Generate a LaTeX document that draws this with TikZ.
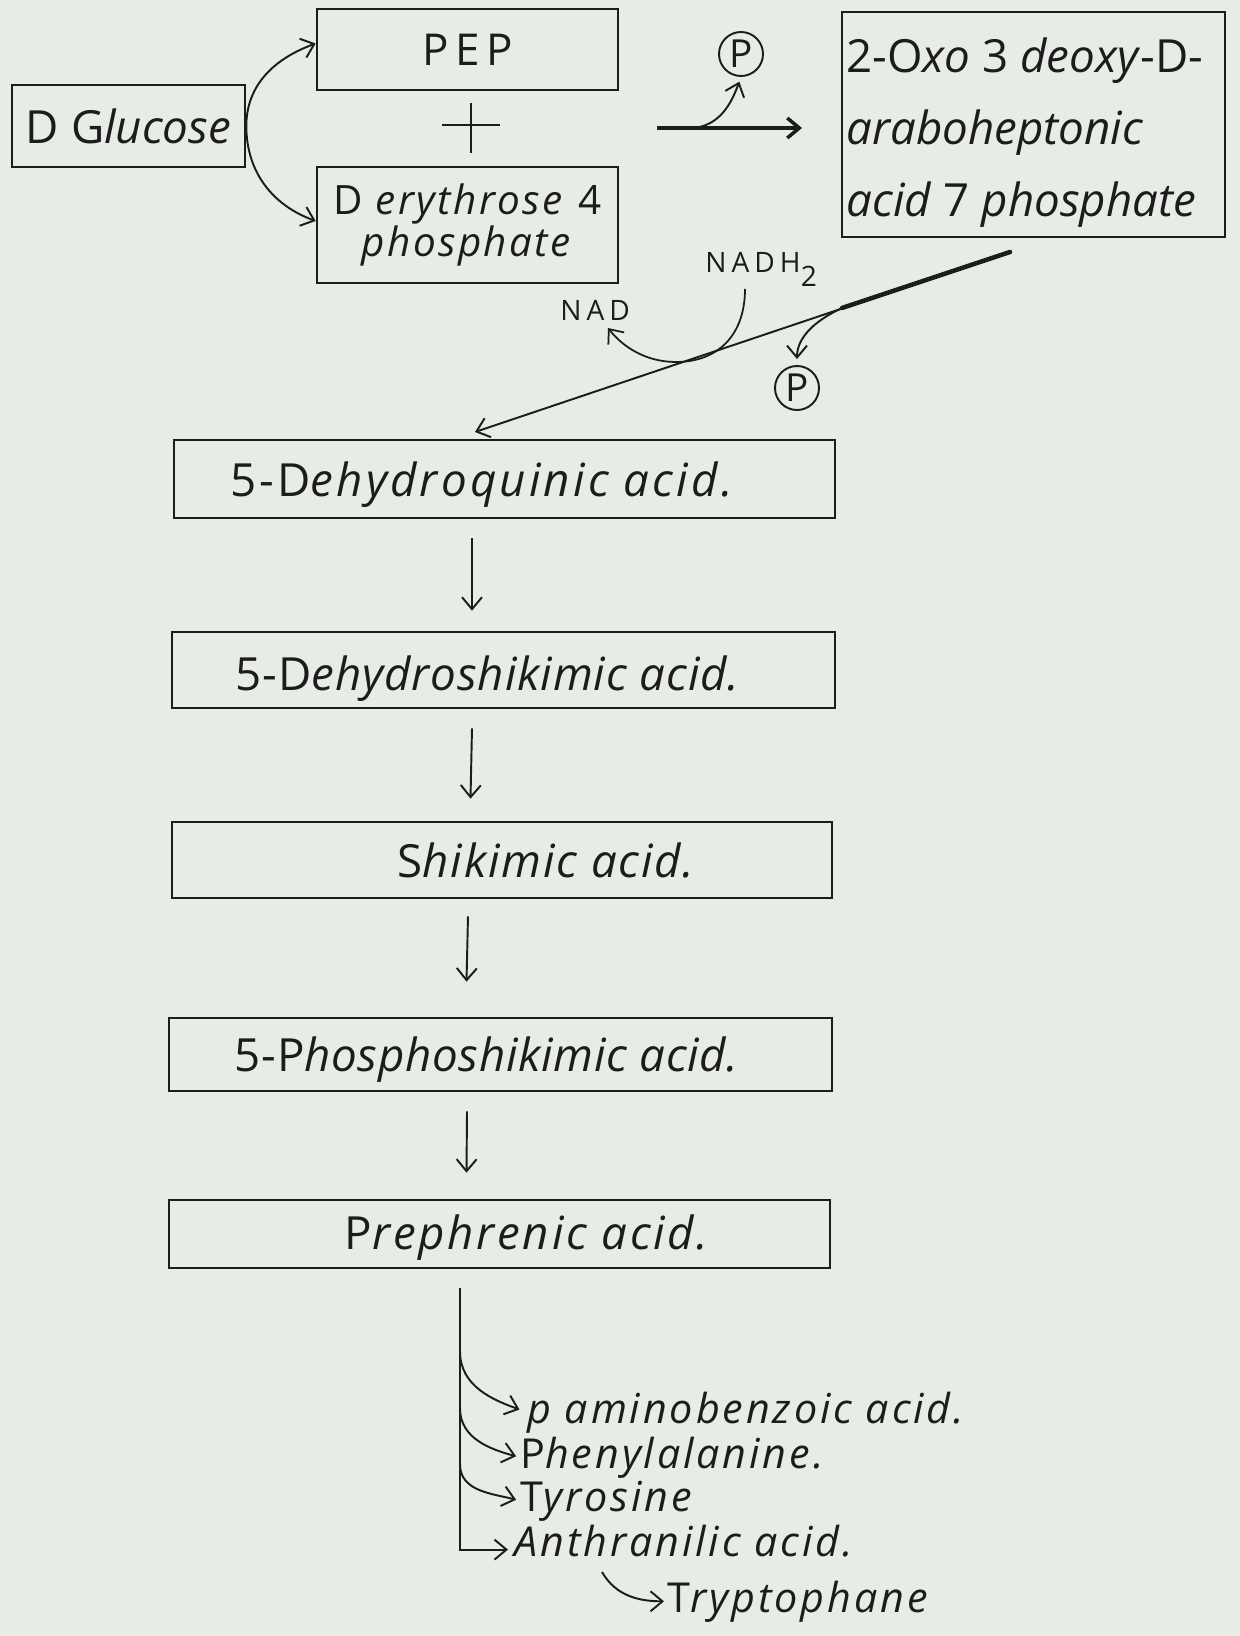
\documentclass[tikz,border=0pt]{standalone}
\usepackage{fontspec}
\setmainfont{Open Sans}
\usetikzlibrary{arrows.meta,calc}
\newlength\pu \setlength\pu{0.02cm}
\definecolor{paper}{HTML}{E8ECE6}
\definecolor{ink}{HTML}{1C1C1C}
\newcommand\fs[1]{\fontsize{#1}{#1}\selectfont}
\newcommand\lsp[1]{\addfontfeatures{LetterSpace=#1}}
\newcommand\chaintext[4]{\makebox[#1\pu]{\hspace*{#2\pu}\raisebox{#3\pu}[\height][\depth]{#4}}}
\begin{document}
\begin{tikzpicture}[x=0.02cm,y=-0.02cm,color=ink,
  box/.style={draw,line width=1.5pt,inner sep=0pt},
  arr/.style={-{Straight Barb[length=2.4mm,width=4mm]},line width=1.1pt},
  circP/.style={circle,draw,line width=1.1pt,minimum size=44\pu,inner sep=0pt,font=\fs{22}},
  lbl/.style={anchor=base west,inner sep=0pt,font=\fs{23.5}\lsp{7}},
  small/.style={anchor=base west,inner sep=0pt,font=\fs{16}}]
\fill[paper] (0,0) rectangle (1240,1636);
\useasboundingbox (0,0) rectangle (1240,1636);

% top row
\node[box,minimum width=233\pu,minimum height=82\pu,font=\fs{26}] (glu) at (128.5,126) {D G\textit{lucose}};
\node[box,minimum width=301\pu,minimum height=81\pu,font=\fs{25}] (pep) at (467.5,49.5) {\lsp{15}PEP};
\node[box,minimum width=301\pu,minimum height=116\pu,align=center,font={\fontsize{23}{19}\selectfont\lsp{6}}] (ery) at (467.5,225) {D \textit{erythrose} 4\\\textit{phosphate}};
\node[box,minimum width=383\pu,minimum height=225\pu,inner sep=0pt] (oxo) at (1033.5,124.5)
  {\raisebox{-8\pu}[\height][\depth]{\parbox{374\pu}{\fontsize{26}{41}\selectfont\raggedright
   2-O\textit{xo} 3 \textit{deoxy}-D-\\\textit{araboheptonic}\\\textit{acid} 7 \textit{phosphate}}}};

\draw[line width=1.5pt] (442,125) -- (500,125) (471,103) -- (471,153);

\draw[arr] (glu.east) to[out=90,in=200] ([yshift=6\pu]pep.west);
\draw[arr] (glu.east) to[out=-90,in=160] ([yshift=4\pu]ery.west);

\node[circP] (p1) at (741,54) {P};
\coordinate (h0) at (657,128);
\coordinate (h1) at (802,128);
\coordinate (hb) at (693,128);
\draw[arr,line width=2pt] (h0) -- (h1);
\draw[arr,shorten >=5\pu] (hb) to[out=5,in=-110] (p1.south);

% diagonal
\coordinate (d0) at (1010,252);
\coordinate (dm) at (842,308);
\coordinate (dqin) at (475,432);
\draw[line width=2.6pt,line cap=round] (d0) -- (dm);
\draw[arr] (d0) -- (dqin);

\node[small] (nadh) at (705,272) {\lsp{18}NADH\raisebox{-8pt}{2}};
\node[small] (nad) at (560,320) {\lsp{18}NAD};
\coordinate (n0) at (745,289);
\coordinate (nb) at (676,362);
\coordinate (n1) at (608,328);
\draw[arr,line width=1pt] (n0) .. controls (745,335) and (718,362) .. (nb) .. controls (645,362) and (622,346) .. (n1);

\node[circP] (p2) at (797,388) {P};
\draw[arr,shorten >=6\pu] (dm) to[out=205,in=90] (p2.north);

% chain
\node[box,minimum width=661\pu,minimum height=78\pu,font=\fs{26}] (dq) at (504.5,479)
  {\chaintext{661}{-43}{-6}{\lsp{7}5-D\textit{ehydroquinic acid.}}};
\node[box,minimum width=663\pu,minimum height=76\pu,font=\fs{26}] (ds) at (503.5,670)
  {\chaintext{663}{-31}{-9}{\lsp{2}5-D\textit{ehydroshikimic acid.}}};
\node[box,minimum width=660\pu,minimum height=76\pu,font=\fs{26}] (sh) at (502,860)
  {\chaintext{660}{90}{0}{\lsp{4}S\textit{hikimic acid.}}};
\node[box,minimum width=663\pu,minimum height=73\pu,font=\fs{26}] (ps) at (500.5,1054.5)
  {\chaintext{663}{-27}{-5}{\lsp{1.5}5-P\textit{hosphoshikimic acid.}}};
\node[box,minimum width=661\pu,minimum height=68\pu,font=\fs{26}] (pr) at (499.5,1234)
  {\chaintext{661}{57}{-4}{\lsp{6}P\textit{rephrenic acid.}}};

\draw[arr] ([xshift=-32.5\pu,yshift=-19\pu]dq.south) -- ([xshift=-31.5\pu,yshift=20\pu]ds.north);
\draw[arr] ([xshift=-31.5\pu,yshift=-19\pu]ds.south) -- ([xshift=-31.5\pu,yshift=22\pu]sh.north);
\draw[arr] ([xshift=-34\pu,yshift=-17\pu]sh.south) -- ([xshift=-34\pu,yshift=35\pu]ps.north);
\draw[arr] ([xshift=-33.5\pu,yshift=-19\pu]ps.south) -- ([xshift=-33\pu,yshift=26\pu]pr.north);

% products
\coordinate (vt) at ([xshift=-39.5\pu,yshift=-19\pu]pr.south);
\coordinate (b1) at ($(vt)+(0,63)$);
\coordinate (b2) at ($(vt)+(0,120)$);
\coordinate (b3) at ($(vt)+(0,176)$);
\node[lbl] (pab) at (527,1423) {\textit{p aminobenzoic acid.}};
\node[lbl] (phe) at (520,1468) {P\textit{henylalanine.}};
\node[lbl] (tyr) at (520,1511) {T\textit{yrosine}};
\node[lbl] (anth) at (514,1556) {\textit{Anthranilic acid.}};
\node[lbl] (tryp) at (667,1612) {T\textit{ryptophane}};
\coordinate (t0) at (602,1572);

\draw[line width=1.1pt] (vt) -- (b1);
\draw[arr,shorten >=8\pu] (b1) to[out=-90,in=160] (pab.west);
\draw[arr,shorten >=4\pu] (b2) to[out=-90,in=165] (phe.west);
\draw[arr,shorten >=4\pu] (b3) to[out=-90,in=165] (tyr.west);
\draw[arr,shorten >=6\pu] (b1) |- ([yshift=-9\pu]anth.west);
\draw[arr,shorten >=3\pu] (t0) to[out=-60,in=180] (tryp.west);
\end{tikzpicture}
\end{document}
